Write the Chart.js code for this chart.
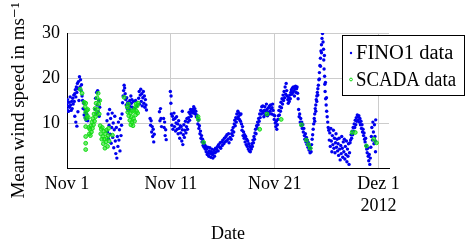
<!DOCTYPE html>
<html>
<head>
<meta charset="utf-8">
<script src="https://cdn.jsdelivr.net/npm/chart.js@4.4.1/dist/chart.umd.min.js"></script>
<style>
  html, body { margin: 0; padding: 0; background: #fff; }
  canvas { display: block; }
</style>
</head>
<body>
<canvas id="myChart" width="467" height="245"></canvas>
<script>
// x values are days since Nov 1 2012, 00:00
const xTickDays = [0, 10, 20, 30];
const xTickLabels = ["Nov 1", "Nov 11", "Nov 21", ["Dez 1", "2012"]];
const yTickValues = [10, 20, 30];

// FINO1 mast, mean wind speed (m/s)
const fino1Day = [
  0.00,0.00,0.05,0.10,0.15,0.20,0.25,0.30,0.35,0.40,0.45,0.50,0.55,0.60,0.65,0.70,
  0.75,0.75,0.80,0.85,0.85,0.90,0.95,0.95,1.00,1.05,1.05,1.10,1.15,1.20,1.25,1.30,1.35,1.40,1.45,
  1.50,1.55,1.60,1.65,1.70,1.75,1.80,1.85,1.90,1.95,2.00,
  2.70,2.75,2.80,2.85,2.90,2.95,3.00,3.05,3.10,3.15,
  3.85,3.90,3.95,4.00,4.05,4.10,4.15,4.20,4.25,4.30,4.35,4.40,4.45,4.50,4.55,4.60,4.65,4.70,4.75,4.80,4.85,4.90,4.95,5.00,5.05,5.10,5.15,5.20,5.25,
  5.30,5.35,5.40,5.45,5.50,5.55,5.60,
  5.65,5.70,5.75,5.80,5.85,5.90,5.95,6.00,6.05,6.10,6.15,6.20,6.25,6.30,6.40,6.50,6.60,6.70,
  6.90,6.95,7.00,7.05,7.10,7.15,7.20,7.25,7.30,7.35,7.40,7.45,7.50,7.55,7.60,7.65,
  8.00,8.05,8.10,8.15,8.20,8.25,8.30,8.35,8.40,
  8.90,8.95,9.00,9.05,9.10,
  9.30,9.35,9.40,9.45,9.50,9.55,
  9.95,10.00,10.02,
  10.05,10.10,10.15,10.20,10.25,10.30,10.35,10.40,10.45,10.50,10.55,10.60,10.65,10.70,10.75,10.80,10.85,10.90,10.95,11.00,
  11.05,11.10,11.10,11.15,11.20,11.25,11.30,11.35,11.40,11.45,11.50,11.55,11.60,11.65,
  11.70,11.75,11.80,11.85,11.90,11.95,12.00,12.05,12.10,12.15,12.20,12.25,12.30,12.35,12.40,12.45,12.50,
  12.55,12.60,12.65,12.70,12.75,12.80,12.85,12.90,12.95,13.00,13.05,13.10,13.15,13.20,13.25,13.30,13.35,13.40,
  13.45,13.50,13.55,13.60,13.65,13.70,13.75,13.80,13.85,13.90,13.95,14.00,14.05,14.10,14.15,14.20,14.25,14.30,14.35,
  14.40,14.50,14.55,14.60,14.70,14.75,14.80,14.90,14.95,15.00,15.10,15.15,15.20,15.30,15.35,15.40,15.50,15.55,15.60,15.70,
  15.80,15.85,15.90,15.95,16.00,16.05,16.10,16.15,16.20,16.25,16.30,16.35,16.40,16.45,16.50,16.55,16.60,16.65,16.70,16.75,
  16.80,16.85,16.90,16.95,17.00,17.05,17.10,17.15,17.20,17.25,17.30,17.35,17.40,17.45,17.50,17.55,17.60,17.65,17.70,
  17.75,17.80,17.85,17.90,17.95,18.00,18.05,18.10,18.15,18.20,18.25,18.30,18.35,18.40,18.45,18.50,18.55,18.60,18.65,18.70,18.75,
  18.80,18.85,18.90,18.95,19.00,19.05,19.10,19.15,19.20,19.25,19.30,19.35,19.40,19.45,19.50,19.55,19.60,19.65,19.70,19.75,19.80,19.85,19.90,19.95,20.00,20.05,20.10,20.15,20.20,20.25,20.30,
  20.35,20.40,20.45,20.50,20.55,20.60,20.65,20.70,20.75,20.80,20.85,20.90,20.95,21.00,21.05,21.10,21.15,21.20,
  21.25,21.30,21.35,21.40,21.45,21.50,21.55,21.60,
  21.65,21.70,21.75,21.80,21.85,21.90,21.95,22.00,22.05,22.10,22.15,22.20,22.25,
  22.30,22.35,22.40,22.45,22.50,22.55,
  22.60,22.65,22.70,22.75,22.80,22.85,22.90,22.95,23.00,23.05,23.10,23.15,23.20,23.25,23.30,23.35,23.40,23.45,23.50,
  23.55,23.60,23.65,23.70,23.75,23.80,23.85,23.85,23.90,23.95,23.95,24.00,24.05,24.05,24.10,24.15,24.15,24.20,
  24.25,24.30,24.30,24.35,24.40,24.40,24.45,24.50,24.50,24.55,24.60,
  24.65,24.70,24.72,24.75,24.78,24.80,24.82,24.85,24.88,24.90,24.95,24.98,25.00,25.05,25.10,25.15,
  25.20,25.25,25.30,25.35,25.40,25.45,25.50,25.55,25.60,25.65,25.70,25.75,25.80,25.85,25.90,25.95,26.00,26.05,
  26.10,26.15,26.20,26.25,26.30,26.35,26.40,26.45,26.50,26.55,26.60,26.65,26.70,26.75,26.80,26.85,26.90,26.95,27.00,27.05,27.10,27.15,27.20,27.25,
  27.30,27.35,27.40,27.45,27.50,27.55,27.60,27.65,27.70,27.75,27.80,27.85,27.90,27.95,28.00,28.05,
  28.10,28.15,28.20,28.25,28.30,28.35,28.40,28.45,28.50,28.55,28.60,28.65,28.70,28.75,28.80,
  28.85,28.90,28.95,29.00,29.05,29.10,29.15,29.20,
  29.25,29.30,29.35,29.40,29.45,29.50,29.55,29.60,29.65,29.68,29.70,29.72
];
const fino1Speed = [
  14.5,13.0,15.2,13.8,12.6,14.6,13.5,15.8,14.0,12.8,14.8,13.2,15.5,14.2,16.2,14.8,
  16.5,11.5,17.4,10.2,15.8,18.0,9.3,16.8,18.8,12.5,17.6,19.2,15.0,20.3,18.0,19.6,17.2,18.5,16.0,
  15.0,13.2,14.4,11.8,13.0,11.2,12.4,10.6,12.0,11.0,10.5,
  13.0,15.5,12.0,16.8,14.0,17.2,12.5,15.0,11.5,13.5,
  10.5,8.0,12.0,6.5,9.5,13.0,7.5,11.0,5.5,9.0,12.2,6.8,10.0,4.5,8.5,11.5,6.0,3.2,9.0,2.2,7.0,4.8,10.2,6.2,8.5,3.8,11.0,7.2,9.5,
  12.0,14.5,16.0,17.2,18.4,17.8,16.5,
  15.2,14.0,15.6,13.2,14.6,12.8,14.0,13.0,15.0,13.6,16.0,14.4,15.2,13.5,14.8,13.2,15.0,13.8,
  15.5,17.0,14.2,16.2,17.5,14.8,16.5,13.8,15.6,17.0,14.4,16.0,13.5,15.2,14.0,12.9,
  11.0,9.5,10.5,8.0,9.2,7.0,8.6,5.8,7.5,
  12.5,10.5,13.2,11.0,9.2,
  11.0,9.0,10.2,7.2,8.5,6.3,
  17.0,14.4,16.0,
  12.0,9.5,11.5,8.6,10.8,12.2,9.2,11.0,8.2,10.0,11.4,8.6,9.8,7.6,10.5,8.8,6.6,9.4,7.8,9.2,
  6.0,8.5,12.6,5.2,7.4,9.6,6.8,8.4,10.4,7.8,9.2,11.0,8.6,10.2,
  11.2,12.4,10.6,12.0,13.0,11.5,12.6,12.4,13.0,12.2,13.6,12.6,13.2,12.0,12.6,11.4,11.8,
  11.2,9.8,10.6,8.8,9.4,7.6,8.2,6.6,7.2,5.8,6.4,5.0,5.6,4.6,5.2,4.2,4.8,3.6,
  4.2,3.0,4.6,3.4,2.6,3.8,4.5,3.2,2.4,3.6,4.2,3.0,2.2,3.4,4.0,2.6,3.4,4.4,3.6,
  4.2,4.8,3.8,5.2,4.6,5.6,4.4,5.8,5.0,6.2,5.4,6.6,5.8,7.0,6.0,7.4,6.4,7.6,5.6,6.8,
  6.4,7.6,8.4,7.2,9.0,8.0,9.8,10.6,9.4,11.2,10.2,12.0,11.0,12.6,11.4,12.2,10.8,11.8,10.4,12.0,
  9.8,8.4,9.2,7.2,8.0,6.6,7.4,5.8,7.0,5.2,6.4,4.8,6.0,4.2,5.4,3.8,4.8,3.6,4.6,
  4.2,5.4,4.8,6.2,5.6,7.0,6.4,7.8,8.6,7.6,9.4,8.8,10.2,9.6,11.0,10.4,12.0,11.2,12.8,12.0,13.6,
  12.6,13.8,12.2,11.4,12.8,13.6,11.8,12.6,14.2,13.0,11.6,12.4,13.4,12.0,13.8,12.6,14.0,13.2,12.0,13.4,14.2,12.8,11.8,10.8,11.6,10.0,9.2,10.4,8.6,9.6,10.8,
  11.6,12.8,11.8,13.6,12.6,14.6,13.4,15.4,14.2,16.2,15.0,17.0,15.6,18.0,16.4,18.8,17.2,16.0,
  15.2,14.4,15.6,14.8,16.2,15.4,16.8,17.4,
  16.4,17.8,16.8,18.0,17.2,16.0,17.6,18.2,16.8,17.6,18.0,16.6,15.4,
  13.0,11.4,12.0,10.2,11.0,9.4,
  10.2,8.8,9.6,8.0,8.8,7.2,6.4,7.6,5.8,6.8,5.2,6.2,4.6,5.6,4.0,5.0,3.4,4.4,3.6,
  5.2,6.4,7.4,8.6,9.8,11.0,12.0,10.4,13.2,14.0,12.6,15.2,16.0,14.8,16.8,17.6,16.2,18.4,
  19.6,21.2,19.8,22.8,24.4,22.6,26.0,27.4,25.6,28.8,29.9,
  28.0,26.4,24.0,22.0,25.0,20.4,18.6,17.0,19.0,15.4,14.0,15.6,12.6,11.4,10.2,9.0,
  8.4,6.2,7.8,4.8,8.8,6.0,3.6,7.2,5.2,8.4,4.4,6.6,3.4,5.6,7.6,4.6,6.4,3.8,
  5.4,2.8,6.6,4.2,1.8,5.0,3.2,7.0,4.4,2.4,5.8,3.6,6.4,2.0,4.8,3.0,6.0,1.4,4.2,2.6,5.4,0.8,3.4,5.6,
  6.2,7.4,6.6,8.2,7.4,9.0,8.2,9.8,9.0,10.6,9.6,11.2,10.4,11.8,10.6,11.4,
  11.6,10.2,11.0,9.6,10.4,8.8,9.6,8.0,8.6,7.2,7.8,6.4,5.8,6.6,5.0,
  4.2,3.4,4.4,2.6,1.6,3.0,0.8,2.2,
  4.6,7.0,9.0,6.2,10.2,8.0,5.4,9.6,7.0,6.0,3.6,10.7
];

// SCADA (turbine) mean wind speed (m/s)
const scadaDay = [
  1.27,1.45,1.65,1.75,1.80,1.80,1.82,1.80,1.80,1.80,1.80,1.90,1.95,2.00,2.05,
  2.10,2.15,2.20,2.25,2.30,2.35,2.40,2.45,2.50,2.55,2.60,2.65,2.70,2.75,2.80,2.85,2.90,2.95,3.00,3.05,3.10,3.15,
  3.20,3.25,3.30,3.35,3.40,3.45,3.50,3.55,3.60,3.65,3.70,3.75,3.80,3.85,3.90,3.95,4.00,4.05,4.37,
  5.50,
  5.80,5.85,5.90,5.95,6.00,6.05,6.10,6.15,6.20,6.25,6.30,6.35,6.40,6.45,6.50,6.55,6.60,6.65,6.70,6.75,6.80,6.85,
  12.62,12.65,13.15,18.55,19.25,20.62,22.57,23.05,23.25,23.42,27.45,27.75,28.83,29.54,29.80
];
const scadaSpeed = [
  17.5,16.6,14.6,13.6,14.4,12.4,11.0,9.2,7.0,5.5,4.1,12.8,11.6,13.0,11.2,
  9.0,7.6,8.6,7.2,9.4,8.0,10.2,8.8,11.0,9.6,12.0,10.4,13.2,11.4,14.4,12.2,15.6,13.0,16.6,14.2,12.0,15.0,
  9.4,7.6,8.6,6.4,9.0,7.0,5.4,8.2,6.4,4.4,7.6,5.8,8.4,6.6,4.8,7.2,8.8,6.0,7.3,
  15.7,
  13.6,12.4,14.2,11.6,13.0,10.6,12.2,9.6,11.4,10.2,12.6,9.4,11.0,12.8,10.4,13.4,11.8,14.2,12.6,13.8,12.2,14.4,
  11.4,10.8,5.7,8.6,12.0,10.8,9.6,6.2,5.2,4.4,7.9,7.9,4.9,6.4,5.6
];

const serif = "'Liberation Serif', 'DejaVu Serif', serif";

function toPoints(days, speeds) {
  return days.map((d, i) => ({ x: d, y: speeds[i] }));
}

// Boxed legend inside the upper right corner, like the original figure
const boxLegend = {
  id: "boxLegend",
  afterDraw(chart) {
    const ctx = chart.ctx;
    const x0 = 342, y0 = 35, w = 123, h = 60;
    ctx.save();
    ctx.fillStyle = "#fff";
    ctx.fillRect(x0, y0, w, h);
    ctx.strokeStyle = "#000";
    ctx.lineWidth = 1;
    ctx.strokeRect(x0 + 0.5, y0 + 0.5, w - 1, h);
    ctx.font = "20.5px " + serif;
    ctx.textBaseline = "alphabetic";
    chart.data.datasets.forEach((ds, i) => {
      const cy = y0 + 18 + i * 26.5;
      ctx.beginPath();
      ctx.arc(x0 + 9, cy, ds.pointRadius - 0.5, 0, Math.PI * 2);
      if (i === 1) {
        ctx.strokeStyle = ds.pointBorderColor;
        ctx.lineWidth = ds.pointBorderWidth;
        ctx.stroke();
      } else {
        ctx.fillStyle = ds.pointBackgroundColor;
        ctx.fill();
      }
      ctx.fillStyle = "#000";
      ctx.fillText(ds.label, x0 + 14, cy + 6, 100);
    });
    ctx.restore();
  },
};

const ctx = document.getElementById("myChart").getContext("2d");

const chart = new Chart(ctx, {
  type: "scatter",
  data: {
    datasets: [
      {
        label: "FINO1 data",
        data: toPoints(fino1Day, fino1Speed),
        pointRadius: 1.7,
        pointBorderWidth: 0,
        pointBackgroundColor: "#0000ee",
        pointBorderColor: "#0000ee",
        order: 2,
      },
      {
        label: "SCADA data",
        data: toPoints(scadaDay, scadaSpeed),
        pointRadius: 1.9,
        pointBorderWidth: 1,
        pointBackgroundColor: "rgba(20,220,20,0.6)",
        pointBorderColor: "#14dc14",
        order: 1,
      },
    ],
  },
  options: {
    responsive: false,
    animation: false,
    devicePixelRatio: 1,
    layout: { padding: { top: 33, right: 78, left: 0, bottom: 0 } },
    plugins: {
      legend: { display: false },
      tooltip: { enabled: false },
    },
    scales: {
      x: {
        type: "linear",
        min: 0,
        max: 31,
        afterBuildTicks: (scale) => {
          scale.ticks = xTickDays.map((v) => ({ value: v }));
        },
        afterFit: (scale) => {
          scale.height = 77;
        },
        ticks: {
          autoSkip: false,
          maxRotation: 0,
          padding: 5,
          color: "#000",
          font: { family: serif, size: 18, lineHeight: 1.25 },
          callback: (value) => xTickLabels[xTickDays.indexOf(value)],
        },
        grid: {
          drawTicks: false,
          color: (c) => (c.tick && c.tick.value === 0 ? "rgba(0,0,0,0)" : "#cccccc"),
          lineWidth: 1,
        },
        border: { color: "#000", width: 1 },
        title: {
          display: true,
          text: "Date",
          color: "#000",
          font: { family: serif, size: 18 },
          padding: { top: 0, bottom: 0 },
        },
      },
      y: {
        min: 0,
        max: 30,
        afterBuildTicks: (scale) => {
          scale.ticks = yTickValues.map((v) => ({ value: v }));
        },
        afterFit: (scale) => {
          scale.width = 67;
        },
        ticks: {
          padding: 7,
          color: "#000",
          font: { family: serif, size: 18 },
        },
        grid: {
          drawTicks: false,
          color: "#cccccc",
          lineWidth: 1,
        },
        border: { color: "#000", width: 1 },
        title: {
          display: true,
          text: "Mean wind speed in ms\u207B\u00B9",
          color: "#000",
          font: { family: serif, size: 19 },
          padding: { top: 8, bottom: 0 },
        },
      },
    },
  },
  plugins: [boxLegend],
});
</script>
</body>
</html>
